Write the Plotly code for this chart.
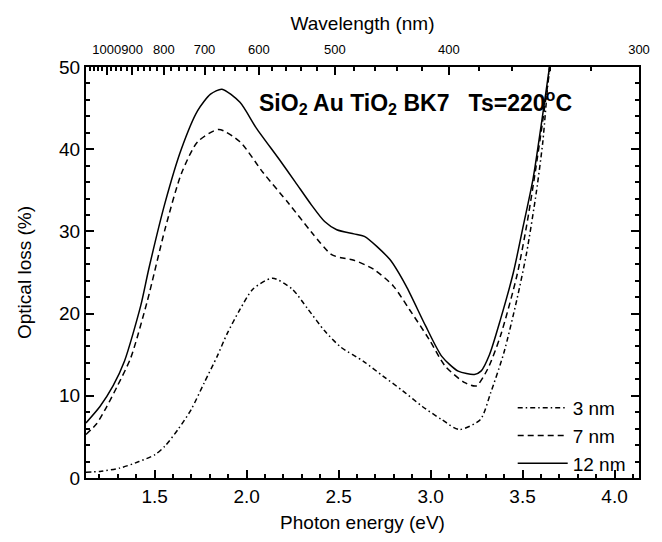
import plotly.graph_objects as go

# ---- data ----
energy_3nm = [1.127, 1.203, 1.31, 1.415, 1.503, 1.557, 1.627, 1.698, 1.77, 1.84, 1.893, 1.964,
              2.035, 2.141, 2.247, 2.335, 2.424, 2.513, 2.635, 2.741, 2.849, 2.955, 3.061,
              3.155, 3.27, 3.327, 3.398, 3.469, 3.522, 3.575, 3.61, 3.645, 3.66]
loss_3nm = [0.7, 0.8, 1.2, 2.0, 2.85, 3.9, 5.9, 8.3, 11.6, 14.8, 17.5, 20.5,
            23.0, 24.3, 23.0, 20.5, 17.9, 15.9, 14.2, 12.4, 10.6, 8.7, 7.1,
            5.9, 7.1, 10.4, 15.2, 21.7, 27.4, 34.8, 40.9, 49.8, 52.0]

energy_7nm = [1.127, 1.185, 1.238, 1.30, 1.37, 1.46, 1.557, 1.645, 1.734, 1.849, 1.964,
              2.088, 2.229, 2.353, 2.46, 2.513, 2.583, 2.69, 2.796, 2.885, 2.991, 3.08,
              3.186, 3.248, 3.309, 3.38, 3.469, 3.522, 3.566, 3.61, 3.65, 3.665]
loss_7nm = [5.3, 6.6, 8.6, 11.3, 14.6, 21.5, 30.3, 37.0, 40.9, 42.4, 40.9,
            37.2, 33.4, 29.9, 27.2, 26.8, 26.5, 25.4, 23.4, 20.5, 16.9, 13.6,
            11.6, 11.2, 13.2, 17.3, 24.6, 30.7, 36.8, 43.5, 50.0, 52.0]

energy_12nm = [1.127, 1.203, 1.274, 1.336, 1.425, 1.468, 1.557, 1.645, 1.734, 1.804, 1.866,
               1.964, 2.052, 2.176, 2.265, 2.353, 2.424, 2.49, 2.583, 2.64, 2.778, 2.866,
               2.973, 3.061, 3.15, 3.238, 3.274, 3.32, 3.38, 3.45, 3.504, 3.557, 3.601, 3.645, 3.66]
loss_12nm = [6.7, 8.7, 11.2, 14.2, 21.0, 25.4, 33.5, 40.0, 44.7, 46.7, 47.3,
             45.7, 42.6, 38.8, 36.0, 33.2, 31.2, 30.2, 29.7, 29.4, 26.6, 23.4,
             18.5, 14.8, 13.0, 12.6, 13.0, 15.0, 19.3, 25.0, 30.7, 36.4, 42.9, 49.8, 52.0]

wavelength_major = [1000, 900, 800, 700, 600, 500, 400, 300]
wavelength_minor = [l for l in range(1100, 299, -20) if l not in wavelength_major]
HC = 1239.84  # eV*nm

x_range = [HC / 1100, HC / 300]
y_range = [0, 50]

FONT = "Liberation Sans, Arial, sans-serif"

fig = go.Figure()
series = [
    ("3 nm", energy_3nm, loss_3nm, "5px,3px,1.5px,3px"),
    ("7 nm", energy_7nm, loss_7nm, "6px,4px"),
    ("12 nm", energy_12nm, loss_12nm, "solid"),
]
for name, xs, ys, dash in series:
    fig.add_trace(go.Scatter(
        x=xs, y=ys, name=name, mode="lines",
        line=dict(color="black", width=1.5, dash=dash, shape="spline", smoothing=0.7),
        legendgroup=name,
    ))

# helper traces so the top (wavelength) axes are drawn
for ax in ("x2", "x3"):
    fig.add_trace(go.Scatter(x=x_range, y=[None, None], xaxis=ax, mode="lines",
                             showlegend=False, hoverinfo="skip"))

tick_style = dict(ticks="inside", tickwidth=1.5, tickcolor="black")

fig.update_layout(
    width=654, height=534,
    margin=dict(l=78, r=14, t=59, b=64),
    paper_bgcolor="white", plot_bgcolor="white",
    font=dict(family=FONT, size=19, color="black"),
    showlegend=True,
    legend=dict(x=0.985, y=-0.012, xanchor="right", yanchor="bottom",
                bgcolor="rgba(0,0,0,0)", font=dict(size=19), tracegroupgap=0,
                itemwidth=50),
    xaxis=dict(
        range=x_range, showgrid=False, zeroline=False,
        showline=True, linecolor="black", linewidth=2, mirror=True,
        ticklen=8, **tick_style,
        tickmode="linear", tick0=1.5, dtick=0.5, tickformat=".1f",
        minor=dict(ticklen=4, dtick=0.1, tick0=1.0, **tick_style),
        title=dict(text="Photon energy (eV)", font=dict(size=19), standoff=10),
        tickfont=dict(size=19),
    ),
    xaxis2=dict(
        overlaying="x", side="top", range=x_range, showgrid=False, zeroline=False,
        showline=True, linecolor="black", linewidth=2,
        ticklen=8, **tick_style, tickangle=0,
        tickmode="array", tickvals=[HC / l for l in wavelength_major],
        ticktext=[str(l) for l in wavelength_major],
        ticklabelstandoff=6,
        title=dict(text="Wavelength (nm)", font=dict(size=19), standoff=6),
        tickfont=dict(size=13),
    ),
    xaxis3=dict(
        overlaying="x", side="top", range=x_range, showgrid=False, zeroline=False,
        showline=False, showticklabels=False,
        ticklen=4, **tick_style,
        tickmode="array", tickvals=[HC / l for l in wavelength_minor],
    ),
    yaxis=dict(
        range=y_range, showgrid=False, zeroline=False,
        showline=True, linecolor="black", linewidth=2, mirror="ticks",
        ticklen=8, **tick_style,
        tickmode="linear", tick0=0, dtick=10,
        minor=dict(ticklen=4, dtick=2, **tick_style),
        title=dict(text="Optical loss (%)", font=dict(size=19), standoff=22),
        tickfont=dict(size=19),
    ),
    annotations=[dict(
        x=2.92, y=45.8, xref="x", yref="y", showarrow=False, xanchor="center",
        text="<b>SiO<sub>2</sub> Au TiO<sub>2</sub> BK7\u00a0\u00a0\u00a0Ts=220<sup>o</sup>C</b>",
        font=dict(size=23, family=FONT),
    )],
)

fig.write_html("out.html")
